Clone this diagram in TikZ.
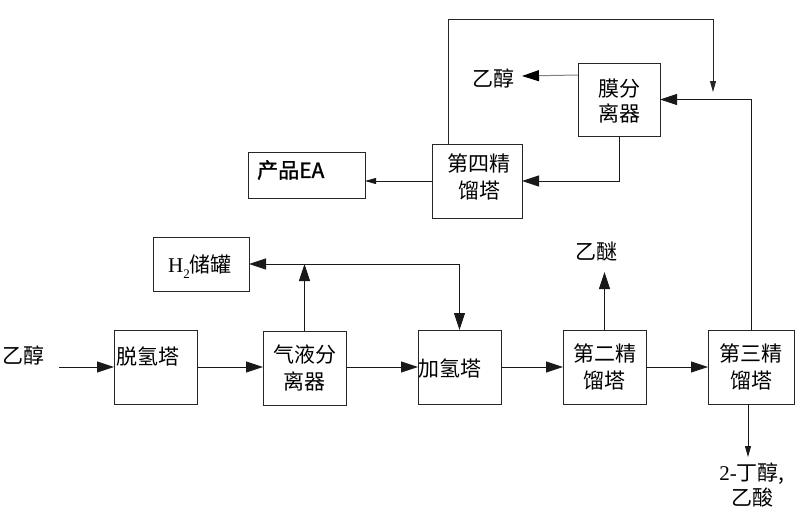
\documentclass[tikz,border=0pt]{standalone}
\usepackage{fontspec}
\setmainfont{Liberation Serif}
\newfontfamily\cjk{Noto Sans CJK SC}
\newfontfamily\cjkb[FakeBold=1.5]{Noto Sans CJK SC}
\usetikzlibrary{arrows.meta,calc}
\begin{document}
\begin{tikzpicture}[x=1pt,y=-1pt,
  box/.style={draw=black!85, line width=0.9pt, inner sep=0pt, outer sep=0pt, align=center,
    font=\cjk\fontsize{21}{27}\selectfont},
  txt/.style={font=\cjk\fontsize{21}{27}\selectfont, inner sep=0pt, align=center},
  flow/.style={draw=black!90, line width=0.8pt, -{Triangle[length=17pt,width=11pt]}},
  sflow/.style={draw=black!90, line width=0.8pt, -{Triangle[length=11pt,width=6pt]}},
  gflow/.style={draw=black!50, line width=1pt, -{Triangle[length=17pt,width=11pt,color=black,fill=black]}},
  plain/.style={draw=black!85, line width=0.8pt},
]
\useasboundingbox (0,0) rectangle (800,507);

% boxes
\node[box, minimum width=83pt, minimum height=74pt] (tq) at (155.5,367) {};
\node[box, minimum width=83pt, minimum height=74pt] (qy) at (304.5,368) {气液分\\离器};
\node[box, minimum width=83pt, minimum height=74pt] (jq) at (459.5,367) {};
\node[box, minimum width=83pt, minimum height=74pt] (d2) at (604.5,367) {第二精\\馏塔};
\node[box, minimum width=86pt, minimum height=74pt] (d3) at (751,367) {第三精\\馏塔};
\node[box, minimum width=96pt, minimum height=54pt] (h2) at (201,264) {};
\node[box, minimum width=90pt, minimum height=74pt] (d4) at (477,181) {};
\node[box, minimum width=117pt, minimum height=46pt] (ea) at (306.5,175) {};
\node[box, minimum width=82pt, minimum height=73pt] (mf) at (619,99.5) {};

% labels inside boxes
\node[txt, anchor=west] (tqlab) at ([shift={(2,-11)}]tq.west) {脱氢塔};
\node[txt, anchor=west] (jqlab) at ([shift={(0,1)}]jq.west) {加氢塔};
\node[txt, anchor=west, font=\cjkb\fontsize{21}{27}\selectfont] (ealab) at ([shift={(9,-5)}]ea.west) {产品EA};
\node[txt, anchor=center] (h2lab) at (200,267) {{\rmfamily\fontsize{21}{21}\selectfont H\raisebox{-0.28em}{\fontsize{13}{13}\selectfont 2}}储罐};
\node[txt] (d4lab) at (479,177) {第四精\\馏塔};
\node[txt, font=\cjk\fontsize{21}{25}\selectfont] (mflab) at (619,101) {膜分\\离器};

% free labels
\node[txt] (e1) at (23,355) {乙醇};
\node[txt] (e2) at (493,78) {乙醇};
\node[txt] (ym) at (596,252) {乙醚};
\node[txt, font=\cjk\fontsize{21}{25}\selectfont] (bd) at (752,485) {{\rmfamily\fontsize{21}{21}\selectfont 2-}丁醇,\\乙酸};

% coordinates
\coordinate (in) at (59,367);
\coordinate (hj) at (h2.east -| jq.north);
\coordinate (d4top) at (448,144);
\coordinate (loopA) at (448,19);
\coordinate (loopB) at (713,19);
\coordinate (loopend) at (713,92);
\coordinate (mfout) at (578,75);
\coordinate (e2tip) at (522,76);
\coordinate (d3bot) at (748,404);
\coordinate (bdtip) at (748,457);
\coordinate (ymtip) at (604.5,272);

% main line
\draw[flow] (in) -- (tq.west);
\draw[flow] (tq.east) -- (qy.west |- tq.east);
\draw[flow] (qy.east |- tq.east) -- (jq.west);
\draw[flow] (jq.east) -- (d2.west);
\draw[flow] (d2.east) -- (d3.west);

% hydrogen loop
\draw[flow] (qy.north) -- (qy.north |- h2.east);
\draw[flow] (hj) -- (h2.east);
\draw[flow] (hj) -- (jq.north);

% ether
\draw[flow] (d2.north) -- (ymtip);

% third column
\draw[flow] (d3.north) |- (mf.east);
\draw[sflow] (d3bot) -- (bdtip);

% membrane separator
\draw[gflow] (mfout) -- (e2tip);
\draw[flow] (mf.south) |- (d4.east);

% fourth column
\draw[sflow] (d4.west) -- (d4.west -| ea.east);
\draw[plain, -{Triangle[length=11pt,width=6pt]}] (d4top) -- (loopA) -- (loopB) -- (loopend);
\end{tikzpicture}
\end{document}
